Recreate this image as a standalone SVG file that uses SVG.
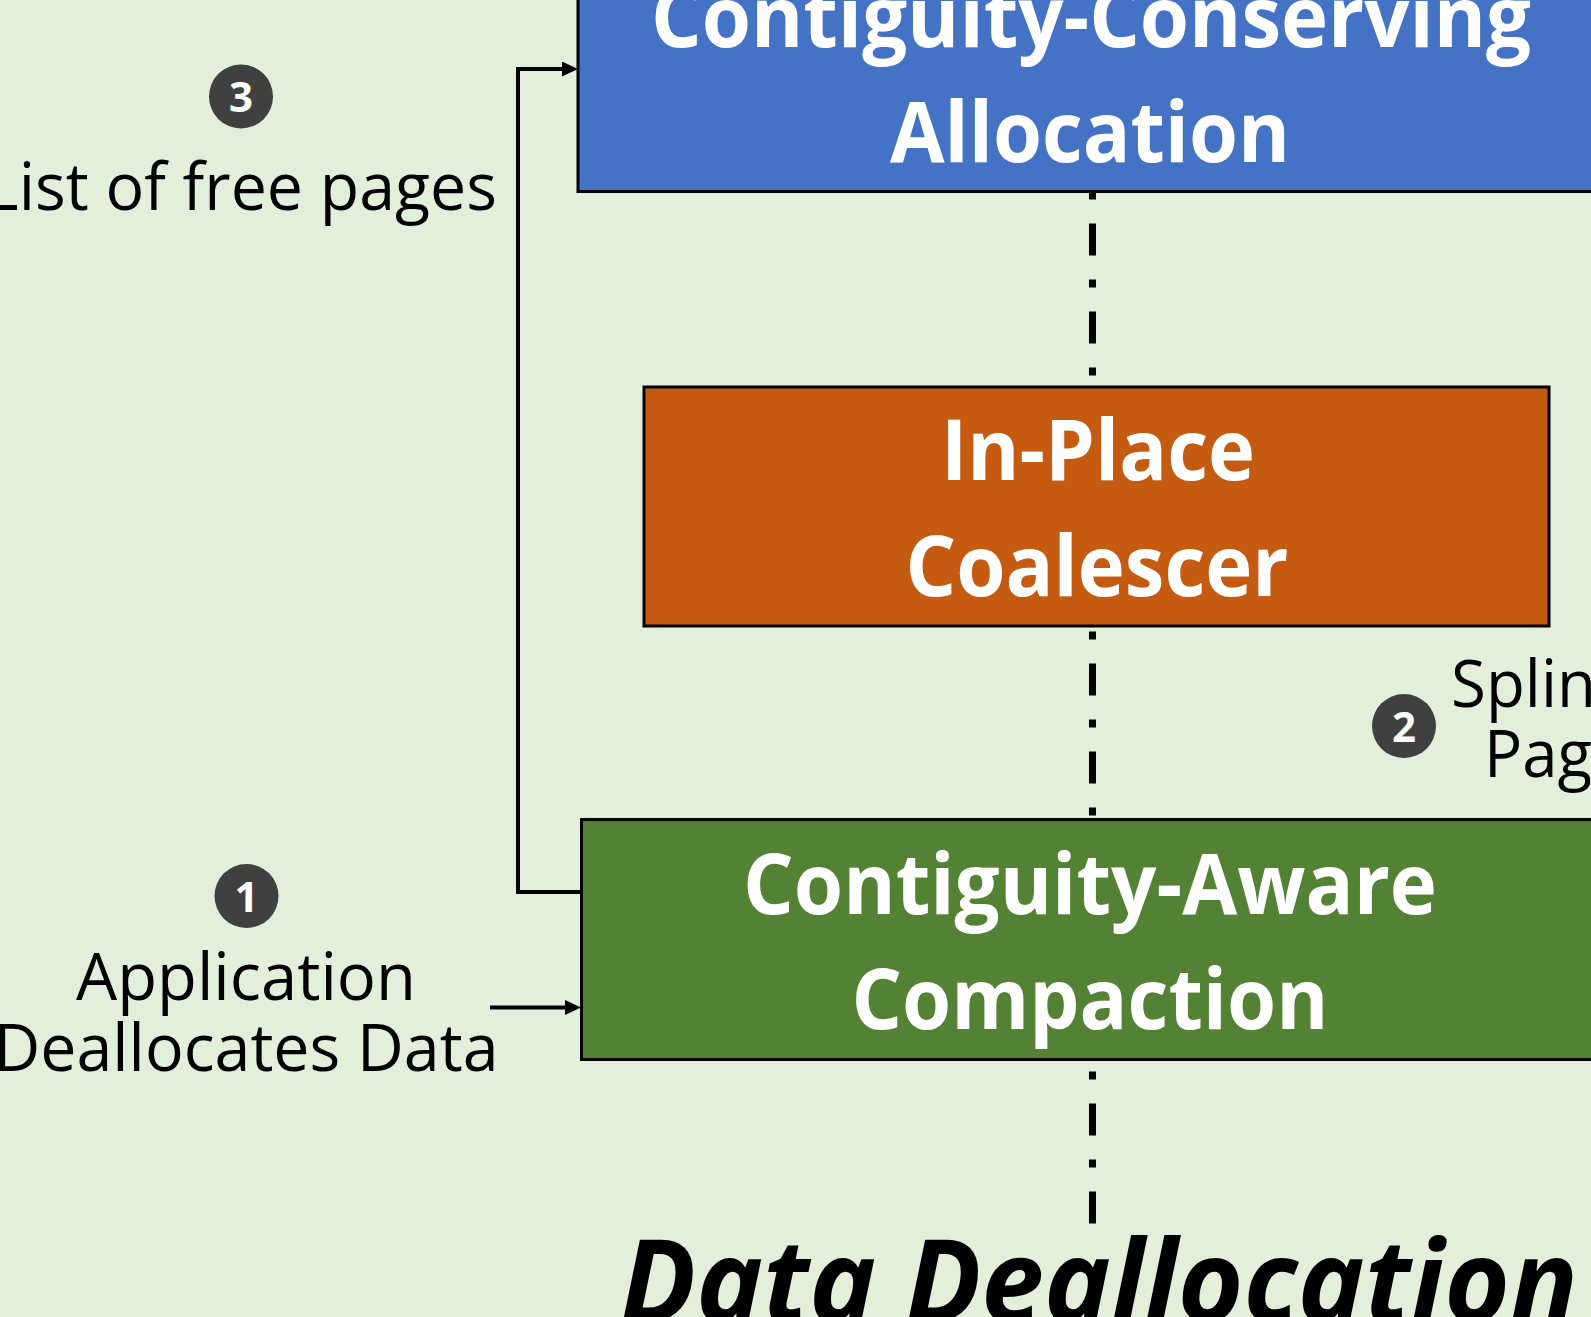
<svg xmlns="http://www.w3.org/2000/svg" width="1591" height="1317" viewBox="0 0 1591 1317">
<style>
.bg{fill:#E2EFDA}
.box{stroke:#000;stroke-width:3}
.bt{font-family:'Open Sans',sans-serif;font-weight:bold;font-size:85px;fill:#fff;text-anchor:middle}
.lbl{font-family:'Open Sans',sans-serif;font-size:66px;fill:#000;text-anchor:middle}
.lbls{font-family:'Open Sans',sans-serif;font-size:66px;fill:#000}
.num{fill:#404040}
.nt{font-family:'Open Sans',sans-serif;font-weight:bold;font-size:42px;fill:#fff;text-anchor:middle}
.conn{fill:none;stroke:#000;stroke-width:4}
.axis{fill:none;stroke:#000;stroke-width:7;stroke-dasharray:8 24 32 24}
.title{font-family:'Open Sans',sans-serif;font-weight:bold;font-style:italic;font-size:115px;fill:#000}
</style>
<defs>
<marker id="arr" markerUnits="userSpaceOnUse" markerWidth="16" markerHeight="16" refX="1" refY="7.5" orient="auto">
<path d="M0,0 L16,7.5 L0,15 Z" fill="#000"/>
</marker>
</defs>
<rect class="bg" x="0" y="0" width="1591" height="1317"/>
<g id="connectors">
<path id="axis-line" class="axis" d="M1092.5,191.5 V1223.5"/>
<path id="c-dealloc" class="conn" d="M490,1007.5 H566" marker-end="url(#arr)"/>
<path id="c-freelist" class="conn" d="M581.5,892 H518 V69 H563" marker-end="url(#arr)"/>
</g>
<g id="node-allocation">
<rect class="box" x="578" y="-200" width="1026" height="391.5" fill="#4472C4"/>
<text class="bt" x="1091" y="47" textLength="880" lengthAdjust="spacingAndGlyphs">Contiguity-Conserving</text>
<text class="bt" x="1090" y="162" textLength="400" lengthAdjust="spacingAndGlyphs">Allocation</text>
</g>
<g id="node-coalescer">
<rect class="box" x="644" y="387" width="905" height="239" fill="#C55A11"/>
<text class="bt" x="1098" y="480" textLength="314" lengthAdjust="spacingAndGlyphs">In-Place</text>
<text class="bt" x="1097" y="596" textLength="383" lengthAdjust="spacingAndGlyphs">Coalescer</text>
</g>
<g id="node-compaction">
<rect class="box" x="581.5" y="819.5" width="1020" height="240" fill="#548235"/>
<text class="bt" x="1090" y="914" textLength="694" lengthAdjust="spacingAndGlyphs">Contiguity-Aware</text>
<text class="bt" x="1090" y="1029" textLength="477" lengthAdjust="spacingAndGlyphs">Compaction</text>
</g>
<g id="step-3">
<circle class="num" cx="241" cy="96.5" r="32"/>
<text class="nt" x="241" y="112">3</text>
<text class="lbl" x="241" y="210" textLength="512" lengthAdjust="spacingAndGlyphs">List of free pages</text>
</g>
<g id="step-1">
<circle class="num" cx="246.5" cy="896" r="32"/>
<text class="nt" x="246.5" y="911.5">1</text>
<text class="lbl" x="246" y="1000" textLength="340" lengthAdjust="spacingAndGlyphs">Application</text>
<text class="lbl" x="246" y="1071" textLength="505" lengthAdjust="spacingAndGlyphs">Deallocates Data</text>
</g>
<g id="step-2">
<circle class="num" cx="1404" cy="726" r="32"/>
<text class="nt" x="1404" y="741.5">2</text>
<text class="lbls" x="1451" y="707" textLength="145" lengthAdjust="spacingAndGlyphs">Splin</text>
<text class="lbls" x="1484" y="777" textLength="108" lengthAdjust="spacingAndGlyphs">Pag</text>
</g>
<g id="title">
<text class="title" x="620" y="1322" textLength="958" lengthAdjust="spacingAndGlyphs">Data Deallocation</text>
</g>
</svg>
